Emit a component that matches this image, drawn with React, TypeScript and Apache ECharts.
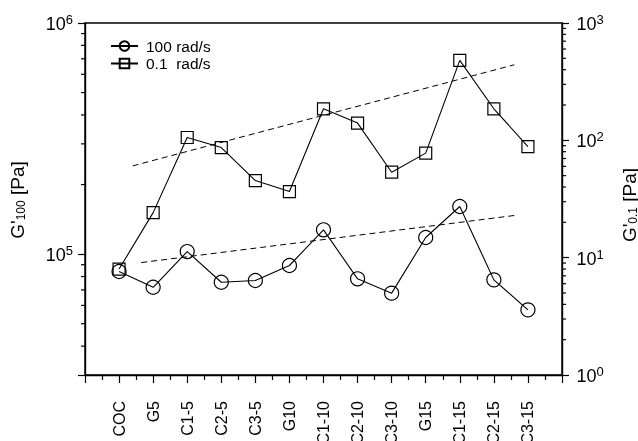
import React, { useEffect, useRef } from 'react';
import * as echarts from 'echarts';

const categories = ['COC', 'G5', 'C1-5', 'C2-5', 'C3-5', 'G10', 'C1-10', 'C2-10', 'C3-10', 'G15', 'C1-15', 'C2-15', 'C3-15'];
const g100 = [84100, 71900, 102600, 75600, 76900, 89300, 127400, 78200, 67800, 118000, 160700, 77400, 57400];
const g01 = [8.0, 24.2, 105.7, 86.8, 45.4, 36.6, 185.7, 140.2, 53.5, 77.8, 479.7, 185.7, 88.5];
const trend100X = [0.65, 11.6];
const trend100Y = [91960, 146950];
const trend01X = [0.4, 11.6];
const trend01Y = [60.6, 440.7];
const leftMinorTicks = [40000, 50000, 60000, 70000, 80000, 90000, 200000, 300000, 400000, 500000, 600000, 700000, 800000, 900000];
const rightMinorTicks = [2, 3, 4, 5, 6, 7, 8, 9, 20, 30, 40, 50, 60, 70, 80, 90, 200, 300, 400, 500, 600, 700, 800, 900];
const legendNames = ['100 rad/s', '0.1  rad/s'];

const FONT = '"Liberation Sans", Arial, Helvetica, sans-serif';

const powLabel = (v: number) => {
  const e = Math.round(Math.log10(v));
  return Math.abs(v / Math.pow(10, e) - 1) < 1e-6 ? `{b|10}{s|${e}}` : '';
};

const tickRich = {
  b: { fontSize: 18, color: '#000', fontFamily: FONT, verticalAlign: 'bottom', lineHeight: 20 },
  s: { fontSize: 13, color: '#000', fontFamily: FONT, verticalAlign: 'top', lineHeight: 10 },
};

const titleRich = {
  m: { fontSize: 19, color: '#000', fontFamily: FONT, verticalAlign: 'bottom', lineHeight: 22 },
  s: { fontSize: 12, color: '#000', fontFamily: FONT, verticalAlign: 'bottom', lineHeight: 8 },
};

const minorTickSeries = (axisIndex: number, xVal: number, values: number[], dir: number) => ({
  type: 'custom',
  xAxisIndex: 0,
  yAxisIndex: axisIndex,
  clip: false,
  silent: true,
  z: 10,
  data: values.map((v) => [xVal, v]),
  renderItem: (_p: any, api: any) => {
    const p = api.coord([api.value(0), api.value(1)]);
    return {
      type: 'line',
      shape: { x1: p[0], y1: p[1], x2: p[0] + dir * 4, y2: p[1] },
      style: { stroke: '#000', lineWidth: 1.2 },
    };
  },
});

export default function App() {
  const ref = useRef<HTMLDivElement>(null);
  useEffect(() => {
    if (!ref.current) return;
    const chart = echarts.init(ref.current, undefined, { renderer: 'svg' });
    const axisLine = { show: true, onZero: false, lineStyle: { color: '#000', width: 1.4 } };
    chart.setOption({
      animation: false,
      textStyle: { fontFamily: FONT, color: '#000' },
      grid: {
        left: 85, right: 76, top: 23, bottom: 66,
        outerBoundsMode: 'none', containLabel: false,
        show: true, borderColor: '#000', borderWidth: 1.4, backgroundColor: 'transparent',
      },
      legend: {
        data: legendNames,
        orient: 'vertical',
        left: 105,
        top: 33,
        itemWidth: 27,
        itemHeight: 12,
        itemGap: 1.5,
        textStyle: { fontSize: 15.5, color: '#000', fontFamily: FONT, lineHeight: 14, padding: [0, 0, 0, 3] },
      },
      xAxis: {
        type: 'value',
        min: -1,
        max: 13,
        interval: 1,
        axisLine,
        axisTick: { show: true, length: 8, lineStyle: { color: '#000', width: 1.2 } },
        minorTick: { show: true, splitNumber: 2, length: 5, lineStyle: { color: '#000', width: 1.2 } },
        splitLine: { show: false },
        minorSplitLine: { show: false },
        axisLabel: {
          rotate: 90,
          margin: 26,
          fontSize: 16,
          color: '#000',
          fontFamily: FONT,
          showMinLabel: true,
          showMaxLabel: true,
          formatter: (v: number) => categories[Math.round(v)] ?? '',
        },
      },
      yAxis: [
        {
          type: 'log',
          logBase: 10,
          min: 30000,
          max: 1000000,
          position: 'left',
          axisLine,
          axisTick: { show: true, length: 7, lineStyle: { color: '#000', width: 1.2 } },
          splitLine: { show: false },
          axisLabel: { margin: 12, formatter: powLabel, rich: tickRich },
        },
        {
          type: 'log',
          logBase: 10,
          min: 1,
          max: 1000,
          position: 'right',
          axisLine,
          axisTick: { show: true, length: 7, lineStyle: { color: '#000', width: 1.2 } },
          splitLine: { show: false },
          axisLabel: { margin: 14.5, formatter: powLabel, rich: tickRich },
        },
      ],
      graphic: [
        {
          type: 'text',
          x: 16,
          y: 200,
          rotation: Math.PI / 2,
          style: { text: "{m|G'}{s|100}{m| [Pa]}", rich: titleRich, align: 'center', verticalAlign: 'middle' },
        },
        {
          type: 'text',
          x: 628,
          y: 205,
          rotation: Math.PI / 2,
          style: { text: "{m|G'}{s|0.1}{m| [Pa]}", rich: titleRich, align: 'center', verticalAlign: 'middle' },
        },
      ],
      series: [
        {
          name: legendNames[0],
          type: 'line',
          yAxisIndex: 0,
          data: g100.map((v, i) => [i, v]),
          symbol: 'circle',
          symbolSize: 14,
          itemStyle: { color: 'rgba(0,0,0,0)', borderColor: '#000', borderWidth: 1.2 },
          lineStyle: { color: '#000', width: 1.1 },
          z: 3,
        },
        {
          name: legendNames[1],
          type: 'line',
          yAxisIndex: 1,
          data: g01.map((v, i) => [i, v]),
          symbol: 'rect',
          symbolSize: 12,
          itemStyle: { color: 'rgba(0,0,0,0)', borderColor: '#000', borderWidth: 1.2 },
          lineStyle: { color: '#000', width: 1.1 },
          z: 3,
        },
        {
          name: 'trend100',
          type: 'line',
          yAxisIndex: 0,
          data: trend100X.map((x, i) => [x, trend100Y[i]]),
          symbol: 'none',
          lineStyle: { color: '#000', width: 1, type: [6, 4] },
          z: 2,
        },
        {
          name: 'trend01',
          type: 'line',
          yAxisIndex: 1,
          data: trend01X.map((x, i) => [x, trend01Y[i]]),
          symbol: 'none',
          lineStyle: { color: '#000', width: 1, type: [6, 4] },
          z: 2,
        },
        minorTickSeries(0, -1, leftMinorTicks, -1),
        minorTickSeries(1, 13, rightMinorTicks, 1),
      ],
    });
    return () => chart.dispose();
  }, []);
  return <div ref={ref} style={{ position: 'fixed', left: 0, top: 0, width: 638, height: 441 }} />;
}
